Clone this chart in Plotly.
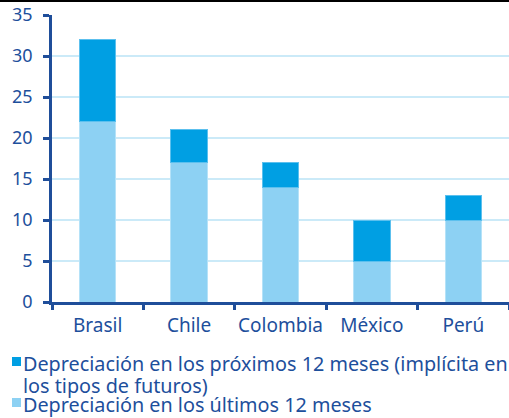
import plotly.graph_objects as go

categories = ["Brasil", "Chile", "Colombia", "México", "Perú"]
ultimos = [22, 17, 14, 5, 10]
proximos = [10, 4, 3, 5, 3]
y_ticks = [0, 5, 10, 15, 20, 25, 30, 35]
legend_proximos = ["Depreciación en los próximos 12 meses (implícita en", "los tipos de futuros)"]
legend_ultimos = "Depreciación en los últimos 12 meses"

DARK = "#009FE3"
LIGHT = "#8DD1F3"
TEXT = "#1D4F9C"
AXIS = "#1F4E9A"
GRID = "#CBEAF8"
FONT = "Noto Sans"

fig = go.Figure()
fig.add_trace(go.Bar(
    x=categories, y=ultimos, name=legend_ultimos, showlegend=False,
    marker=dict(color=LIGHT, line=dict(color="#B5E2F8", width=1)),
))
fig.add_trace(go.Bar(
    x=categories, y=proximos, name=" ".join(legend_proximos), showlegend=False,
    marker=dict(color=DARK, line=dict(color="#5CC0EE", width=1)),
))

W, H = 509, 418
L, R, T, B = 52, 0, 15, 116
ph = H - T - B
pw = W - L - R


def px_x(px):
    return (px - L) / pw


def px_y(py):
    return (H - B - py) / ph


legend_lines = [
    (legend_proximos[0], 363),
    (legend_proximos[1], 385),
    (legend_ultimos, 404),
]
annotations = [
    dict(text=t, xref="paper", yref="paper", x=px_x(21), y=px_y(cy),
         xanchor="left", yanchor="middle", showarrow=False,
         font=dict(family=FONT, size=19.8, color=TEXT))
    for t, cy in legend_lines
]

shapes = [
    dict(type="rect", xref="paper", yref="paper",
         x0=-L / pw, x1=1, y0=1 + (T - 2) / ph, y1=1 + T / ph,
         fillcolor="black", line=dict(width=0)),
    dict(type="rect", xref="paper", yref="paper",
         x0=px_x(12), x1=px_x(21), y0=px_y(366), y1=px_y(357),
         fillcolor=DARK, line=dict(width=0)),
    dict(type="rect", xref="paper", yref="paper",
         x0=px_x(12), x1=px_x(21), y0=px_y(407), y1=px_y(398),
         fillcolor=LIGHT, line=dict(width=0)),
]

fig.update_layout(
    barmode="stack",
    bargap=0.6,
    width=W, height=H,
    margin=dict(l=L, r=R, t=T, b=B, autoexpand=False),
    paper_bgcolor="white",
    plot_bgcolor="white",
    font=dict(family=FONT, color=TEXT, size=16),
    showlegend=False,
    xaxis=dict(
        showline=True, linecolor=AXIS, linewidth=2.5,
        ticks="outside", tickson="boundaries", ticklen=5, tickcolor=AXIS, tickwidth=2.5,
        ticklabelstandoff=4,
        tickfont=dict(size=19, color=TEXT), tickangle=0,
        showgrid=False,
    ),
    yaxis=dict(
        range=[0, 35], tickvals=y_ticks,
        showline=True, linecolor=AXIS, linewidth=2.5,
        ticks="outside", ticklen=6, tickcolor=AXIS, tickwidth=2.5,
        ticklabelstandoff=7,
        tickfont=dict(size=18, color=TEXT),
        showgrid=True, gridcolor=GRID, gridwidth=1.5,
        zeroline=False,
    ),
    annotations=annotations,
    shapes=shapes,
)

fig.write_html("out.html")
